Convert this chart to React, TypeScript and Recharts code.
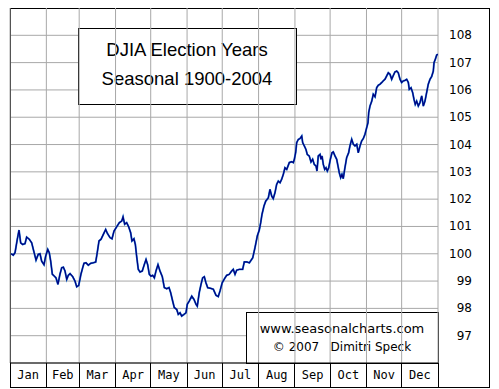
import React from "react";
import { LineChart, Line, XAxis, YAxis, CartesianGrid, ReferenceLine, Customized } from "recharts";

const days: number[] = [
  0.9, 2.8, 4.3, 6.2, 7.7, 9.1, 10.8, 12.8, 14.2, 16.5, 18.5, 19.9, 22.2, 24.1, 25.6, 27.0, 29.0, 30.4, 32.2, 33.5,
  34.7, 36.1, 37.8, 39.2, 40.9, 42.6, 44.1, 45.5, 46.9, 48.4, 49.7, 51.2, 53.5, 55.4, 56.9, 58.6, 60.5, 62.0, 63.1, 64.8,
  66.8, 68.8, 71.0, 73.1, 74.4, 75.9, 77.6, 79.6, 81.6, 83.0, 85.3, 87.0, 88.7, 91.0, 93.2, 95.3, 96.4, 97.8, 99.5, 101.2,
  102.9, 104.0, 105.7, 106.9, 108.0, 109.4, 110.9, 112.8, 114.5, 116.0, 117.4, 118.8, 120.2, 121.7, 123.1, 124.5, 126.2, 127.9, 129.9, 131.6,
  133.6, 135.6, 137.0, 138.7, 140.1, 142.2, 143.5, 145.0, 146.4, 148.4, 150.1, 151.2, 152.9, 155.0, 156.9, 158.6, 159.7, 161.4, 162.9, 164.3,
  165.7, 167.1, 168.6, 171.2, 173.4, 175.7, 177.6, 179.1, 181.0, 183.4, 184.8, 187.0, 189.1, 190.4, 191.9, 193.3, 195.5, 198.4, 199.8, 201.9,
  204.1, 207.0, 208.9, 210.9, 212.6, 213.8, 214.9, 216.6, 218.1, 220.3, 221.7, 223.2, 224.5, 226.0, 227.4, 228.8, 230.3, 231.7, 233.1, 234.5,
  236.0, 238.2, 240.2, 241.6, 242.5, 243.6, 244.5, 245.9, 247.3, 248.8, 249.6, 251.0, 252.4, 253.5, 255.2, 256.7, 258.1, 259.5, 261.0, 261.8,
  262.9, 264.4, 265.2, 266.1, 267.2, 268.4, 269.5, 270.6, 271.8, 273.2, 274.6, 275.7, 277.2, 278.6, 280.0, 280.8, 282.0, 283.1, 284.2, 285.4,
  287.1, 288.8, 289.9, 291.4, 292.8, 294.2, 295.7, 297.0, 298.5, 299.9, 301.3, 302.7, 304.2, 305.3, 305.9, 307.0, 308.5, 309.8, 311.3, 312.7,
  314.1, 315.5, 317.0, 318.3, 319.8, 321.2, 322.6, 324.1, 325.5, 326.9, 328.3, 329.8, 331.1, 332.6, 334.0, 335.4, 336.9, 338.3, 339.7, 340.5,
  342.0, 343.4, 344.5, 345.6, 346.8, 348.2, 349.6, 351.1, 352.5, 353.9, 355.3, 356.7, 358.2, 359.6, 361.0, 361.6, 362.7, 363.9, 365.0,
];

const values: number[] = [
  100.0, 99.95, 100.04, 100.53, 100.87, 100.4, 100.34, 100.37, 100.61, 100.53, 100.4, 100.16, 99.77, 99.98, 100.0, 99.73, 99.6, 99.91, 100.16, 100.04,
  99.73, 99.25, 99.18, 99.12, 98.88, 99.25, 99.49, 99.51, 99.37, 99.06, 99.21, 99.27, 99.16, 99.0, 98.79, 98.84, 99.25, 99.49, 99.65, 99.67,
  99.58, 99.65, 99.67, 99.7, 100.04, 100.47, 100.53, 100.71, 100.89, 100.75, 100.59, 100.55, 100.83, 100.99, 101.14, 101.2, 101.35, 101.08, 101.14, 100.99,
  100.77, 100.47, 100.55, 100.34, 99.91, 99.43, 99.33, 99.37, 99.6, 99.79, 99.6, 99.25, 99.18, 99.21, 99.12, 99.37, 99.6, 99.37, 99.16, 98.76,
  98.72, 98.76, 98.58, 98.27, 98.03, 97.96, 97.78, 97.84, 97.72, 97.78, 97.84, 98.15, 98.27, 98.45, 98.33, 98.15, 98.08, 98.58, 98.88, 99.12,
  99.16, 98.94, 98.76, 98.73, 98.7, 98.48, 98.43, 98.64, 98.94, 99.12, 99.21, 99.25, 99.37, 99.43, 99.25, 99.4, 99.43, 99.43, 99.7, 99.7,
  99.67, 99.85, 100.22, 100.65, 100.87, 101.14, 101.44, 101.75, 101.93, 102.05, 102.36, 102.11, 102.02, 102.24, 102.54, 102.66, 102.6, 102.73, 102.91, 103.15,
  103.09, 103.34, 103.37, 103.34, 103.46, 103.7, 104.07, 104.19, 104.22, 104.31, 104.07, 103.95, 103.82, 103.64, 103.58, 103.36, 103.46, 103.27, 103.21, 103.03,
  103.58, 103.64, 103.46, 103.58, 103.27, 103.09, 103.15, 103.03, 103.15, 103.46, 103.7, 103.73, 103.58, 103.46, 103.15, 102.97, 102.79, 102.91, 102.75, 103.09,
  103.52, 103.7, 103.95, 104.19, 104.01, 103.95, 104.01, 103.7, 103.95, 104.13, 104.22, 104.37, 104.62, 104.8, 105.17, 105.41, 105.59, 105.84, 105.75, 106.08,
  106.17, 106.21, 106.27, 106.33, 106.39, 106.51, 106.63, 106.57, 106.39, 106.53, 106.66, 106.69, 106.63, 106.39, 106.27, 106.33, 106.35, 106.39, 106.27, 106.02,
  106.08, 105.9, 105.66, 105.47, 105.59, 105.41, 105.53, 105.78, 105.41, 105.59, 105.9, 106.21, 106.39, 106.49, 106.69, 107.0, 107.12, 107.28, 107.3,
];

const monthNames: string[] = ["Jan", "Feb", "Mar", "Apr", "May", "Jun", "Jul", "Aug", "Sep", "Oct", "Nov", "Dec"];
const monthStarts: number[] = [0, 31, 59, 90, 120, 151, 181, 212, 243, 273, 304, 334, 365];
const yTicks: number[] = [97, 98, 99, 100, 101, 102, 103, 104, 105, 106, 107, 108];

const titleLines: string[] = ["DJIA Election Years", "Seasonal 1900-2004"];
const creditLines: string[] = ["www.seasonalcharts.com", "\u00A9 2007\u00A0\u00A0\u00A0Dimitri Speck"];

const data = days.map((d, i) => ({ day: d, value: values[i] }));
const monthCenters = monthNames.map((_, i) => (monthStarts[i] + monthStarts[i + 1]) / 2);
const xTicks = [...monthStarts, ...monthCenters].sort((a, b) => a - b);

const W = 491;
const H = 381;

const MonthTick = (props: any) => {
  const { x, y, payload } = props;
  const v = payload.value;
  const si = monthStarts.indexOf(v);
  if (si >= 0) {
    return <line x1={x} x2={x} y1={y} y2={y + 24} stroke="#000" strokeWidth={1} shapeRendering="crispEdges" />;
  }
  const ci = monthCenters.indexOf(v);
  return (
    <text x={x} y={y + 16} textAnchor="middle" fontFamily="'DejaVu Sans Mono', monospace" fontSize={12} fill="#000">
      {monthNames[ci]}
    </text>
  );
};

const ValueTick = (props: any) => {
  const { x, y, payload } = props;
  return (
    <text x={x + 34} y={y + 4} textAnchor="end" fontFamily="'DejaVu Sans', Verdana, sans-serif" fontSize={12} fill="#000">
      {payload.value}
    </text>
  );
};

const Overlay = () => (
  <g>
    <rect x={70.5} y={20.5} width={218} height={76} fill="#fff" stroke="#000" strokeWidth={1} shapeRendering="crispEdges" />
    <text x={179} y={48} textAnchor="middle" fontFamily="'Liberation Sans', Arial, sans-serif" fontSize={18.5} fill="#000">
      {titleLines[0]}
    </text>
    <text x={179} y={77} textAnchor="middle" fontFamily="'Liberation Sans', Arial, sans-serif" fontSize={18.5} fill="#000">
      {titleLines[1]}
    </text>
    <rect x={238.5} y={304.5} width={192} height={51} fill="#fff" stroke="#000" strokeWidth={1} shapeRendering="crispEdges" />
    <text x={334} y={325} textAnchor="middle" fontFamily="'DejaVu Sans', Verdana, sans-serif" fontSize={13} fill="#000">
      {creditLines[0]}
    </text>
    <text x={334} y={343} textAnchor="middle" fontFamily="'DejaVu Sans', Verdana, sans-serif" fontSize={12} fill="#000">
      {creditLines[1]}
    </text>
    <rect x={2.5} y={0.5} width={479} height={379} fill="none" stroke="#000" strokeWidth={1} shapeRendering="crispEdges" />
  </g>
);

export default function App() {
  return (
    <div style={{ width: W, height: H, background: "#fff" }}>
      <LineChart width={W} height={H} data={data} margin={{ top: 0, right: 10, left: 2, bottom: 2 }}>
        <CartesianGrid horizontal vertical={false} stroke="#a8a8a8" strokeWidth={1} />
        <XAxis
          dataKey="day"
          type="number"
          domain={[0, 365]}
          ticks={xTicks}
          interval={0}
          height={24}
          tickSize={0}
          tickMargin={0}
          tickLine={false}
          axisLine={{ stroke: "#000", strokeWidth: 1 }}
          tick={<MonthTick />}
          allowDataOverflow
        />
        <YAxis
          orientation="right"
          type="number"
          domain={[96, 109]}
          ticks={yTicks}
          interval={0}
          width={51}
          tickSize={0}
          tickMargin={0}
          tickLine={false}
          axisLine={false}
          tick={<ValueTick />}
          allowDataOverflow
        />
        {monthStarts.map((m) => (
          <ReferenceLine key={m} x={m} stroke="#a8a8a8" strokeWidth={1} ifOverflow="visible" />
        ))}
        <Line type="linear" dataKey="value" stroke="#1c78d0" strokeWidth={1.9} dot={false} isAnimationActive={false} />
        <Line type="linear" dataKey="value" stroke="#000080" strokeWidth={1.2} dot={false} isAnimationActive={false} />
        <Customized component={<Overlay />} />
      </LineChart>
    </div>
  );
}
